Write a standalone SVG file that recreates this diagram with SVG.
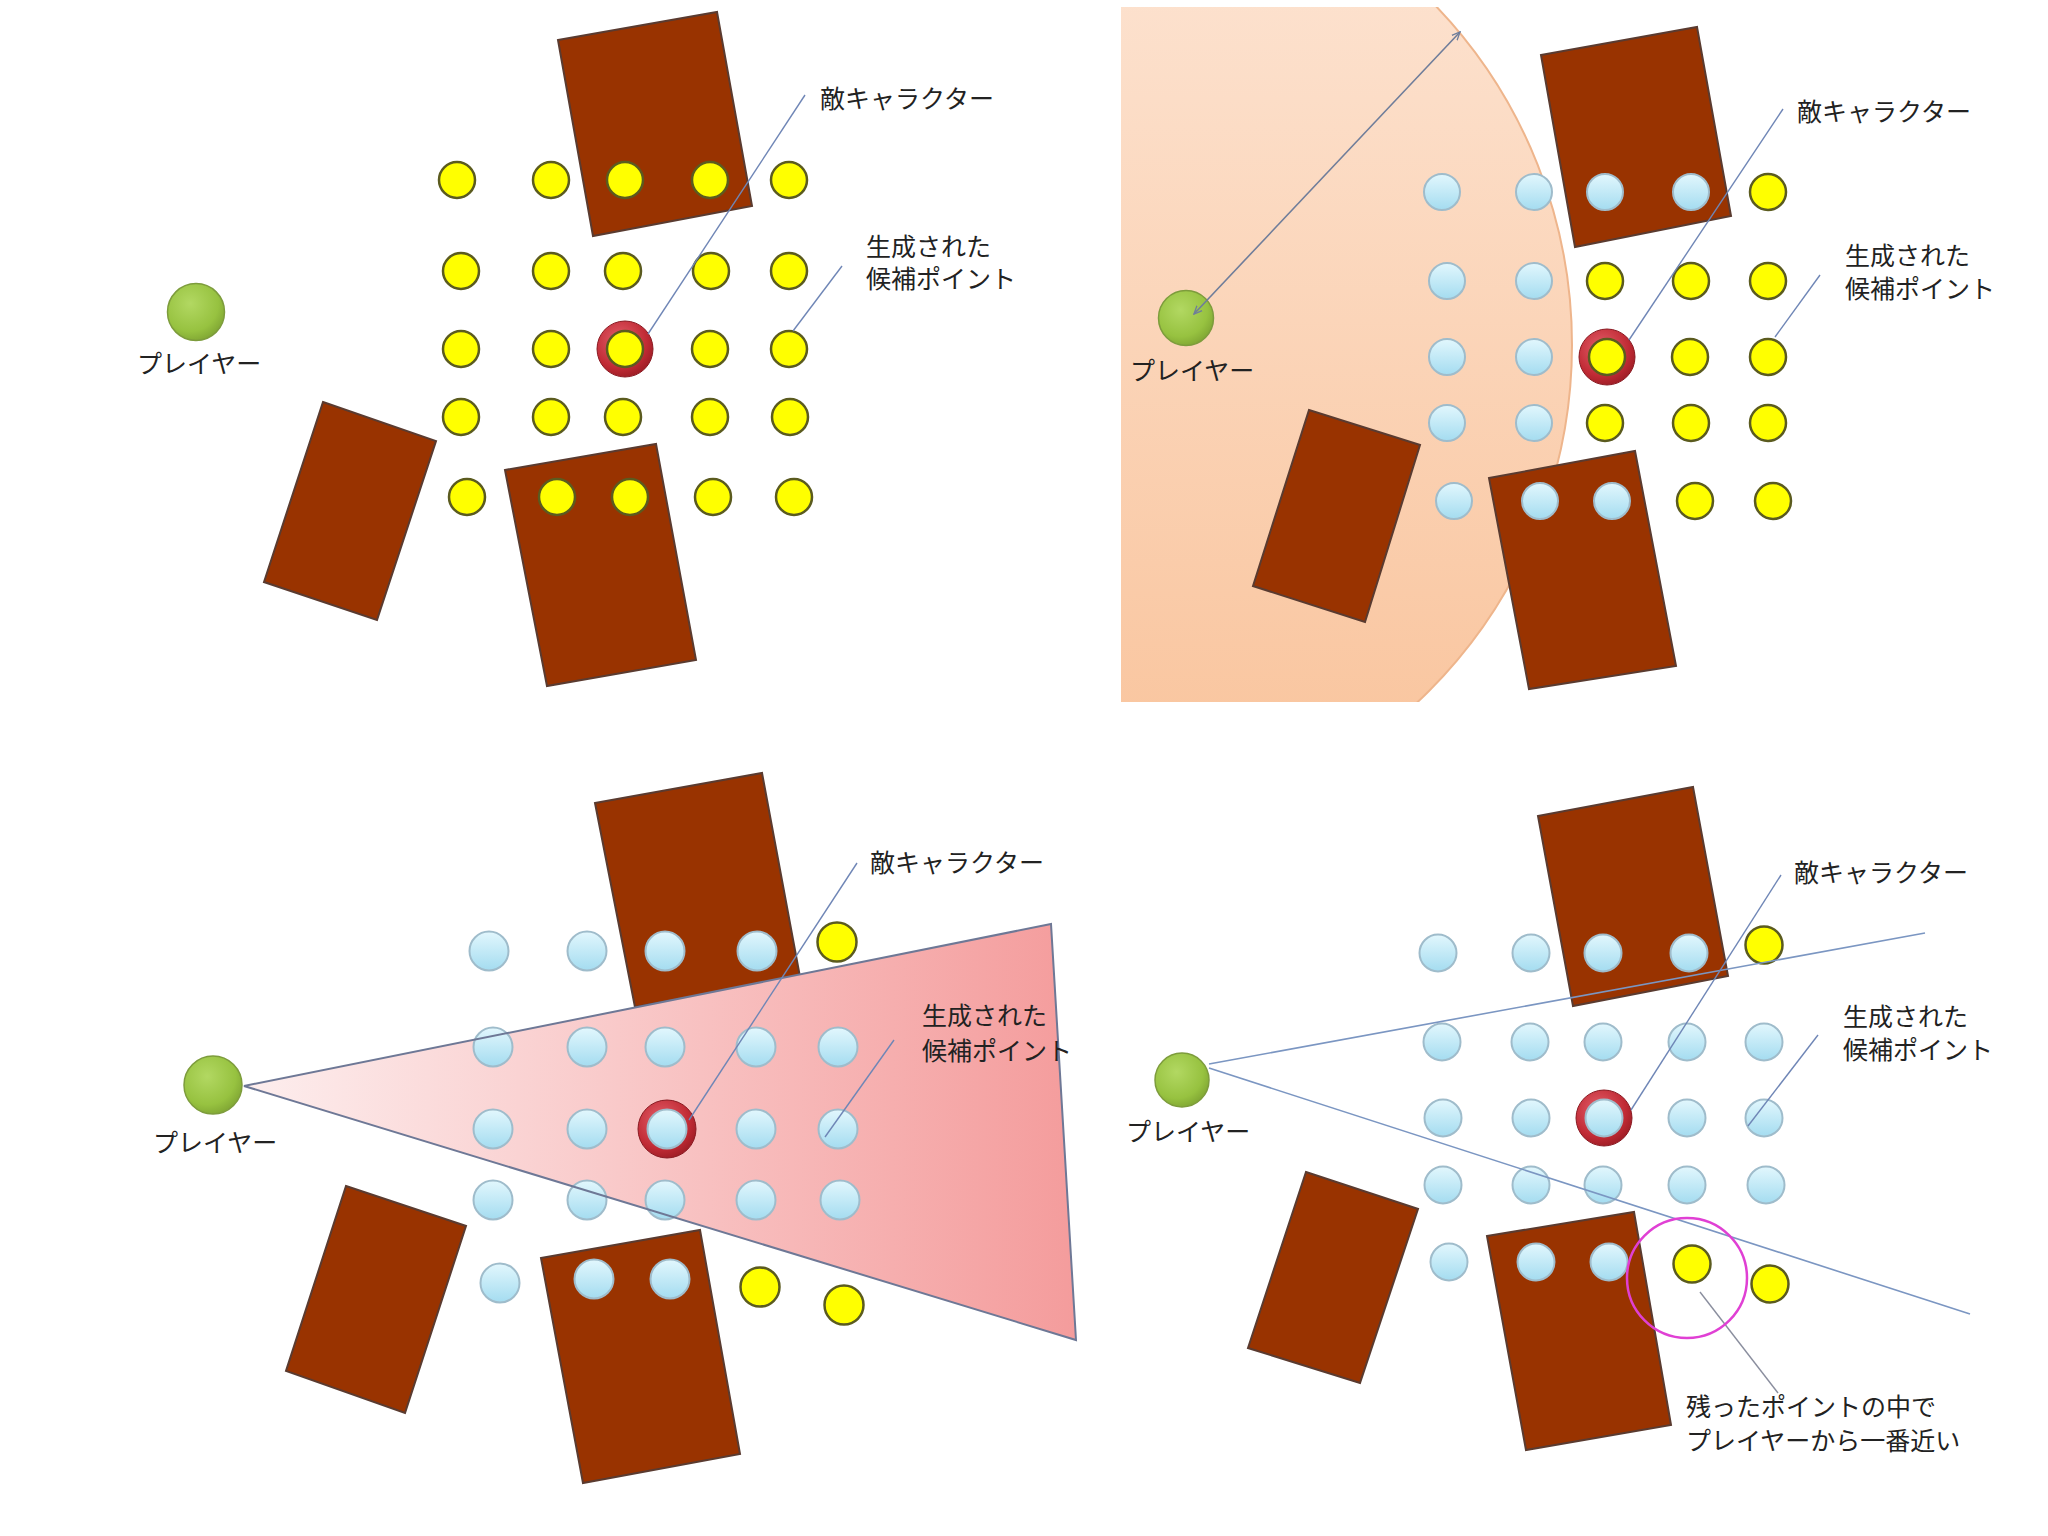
<svg xmlns="http://www.w3.org/2000/svg" width="2048" height="1536" viewBox="0 0 2048 1536">
<defs>
<style>
.rect{fill:#993300;stroke:#5a3b30;stroke-width:2}
.y{fill:#ffff00;stroke:#5b5b1f;stroke-width:2.5}
.b{fill:url(#blueG);stroke:#9fbccb;stroke-width:2}
.ring{fill:url(#ringG);stroke:#8a1a22;stroke-width:1}
.pl{fill:url(#greenG);stroke:#7d9c3c;stroke-width:1.5}
.lead{stroke:#6f86b6;stroke-width:1.4;fill:none}
.lbl{font-family:"Noto Sans CJK JP","Noto Sans CJK SC",sans-serif;font-size:25px;fill:#222}
</style>
<linearGradient id="blueG" x1="0" y1="0" x2="0" y2="1">
<stop offset="0" stop-color="#e2f7fd"/><stop offset="1" stop-color="#a4dcf0"/>
</linearGradient>
<radialGradient id="ringG" cx="0.4" cy="0.35" r="0.7">
<stop offset="0" stop-color="#e4606c"/><stop offset="0.7" stop-color="#c02a34"/><stop offset="1" stop-color="#9a1c24"/>
</radialGradient>
<radialGradient id="greenG" cx="0.4" cy="0.35" r="0.7">
<stop offset="0" stop-color="#b2d862"/><stop offset="0.7" stop-color="#97c240"/><stop offset="1" stop-color="#7ea432"/>
</radialGradient>
<linearGradient id="orangeG" x1="0" y1="0" x2="0" y2="1">
<stop offset="0" stop-color="#fde6d6"/><stop offset="1" stop-color="#f9c299"/>
</linearGradient>
<linearGradient id="pinkG" x1="0" y1="0" x2="1" y2="0">
<stop offset="0" stop-color="#fdeeee"/><stop offset="1" stop-color="#f49c9c"/>
</linearGradient>
<clipPath id="q2clip"><rect x="1121" y="7" width="700" height="695"/></clipPath>
<marker id="ah" viewBox="0 0 10 10" refX="9" refY="5" markerWidth="9" markerHeight="9" orient="auto-start-reverse" markerUnits="userSpaceOnUse">
<path d="M0,1 L9,5 L0,9" fill="none" stroke="#6f7d9a" stroke-width="1.5"/>
</marker>
</defs>
<rect width="2048" height="1536" fill="#ffffff"/>

<!-- ===== Quadrant 1 ===== -->
<g id="q1">
<g id="q1-enemy-top"><polygon class="rect" points="558,40 717,12 752,206 593,236"/></g>
<g id="q1-enemy-left"><polygon class="rect" points="323,402 436,441 377,620 264,582"/></g>
<g id="q1-enemy-bottom"><polygon class="rect" points="505,470 656,444 696,660 547,686"/></g>
<g id="q1-ring"><circle class="ring" cx="625" cy="349" r="28"/></g>
<g id="q1-points">
<circle class="y" cx="457" cy="180" r="18"/><circle class="y" cx="551" cy="180" r="18"/><circle class="y" cx="625" cy="180" r="18"/><circle class="y" cx="710" cy="180" r="18"/><circle class="y" cx="789" cy="180" r="18"/>
<circle class="y" cx="461" cy="271" r="18"/><circle class="y" cx="551" cy="271" r="18"/><circle class="y" cx="623" cy="271" r="18"/><circle class="y" cx="711" cy="271" r="18"/><circle class="y" cx="789" cy="271" r="18"/>
<circle class="y" cx="461" cy="349" r="18"/><circle class="y" cx="551" cy="349" r="18"/><circle class="y" cx="625" cy="349" r="18"/><circle class="y" cx="710" cy="349" r="18"/><circle class="y" cx="789" cy="349" r="18"/>
<circle class="y" cx="461" cy="417" r="18"/><circle class="y" cx="551" cy="417" r="18"/><circle class="y" cx="623" cy="417" r="18"/><circle class="y" cx="710" cy="417" r="18"/><circle class="y" cx="790" cy="417" r="18"/>
<circle class="y" cx="467" cy="497" r="18"/><circle class="y" cx="557" cy="497" r="18"/><circle class="y" cx="630" cy="497" r="18"/><circle class="y" cx="713" cy="497" r="18"/><circle class="y" cx="794" cy="497" r="18"/>
</g>
<g id="q1-player"><circle class="pl" cx="196" cy="312" r="28.5"/><text class="lbl" x="137" y="373">プレイヤー</text></g>
<g id="q1-connectors">
<line class="lead" x1="805" y1="95" x2="648" y2="334"/>
<line class="lead" x1="842" y1="266" x2="793" y2="331"/>
</g>
<g id="q1-label-enemy"><text class="lbl" x="820" y="108">敵キャラクター</text></g>
<g id="q1-label-points"><text class="lbl" x="866" y="256">生成された</text><text class="lbl" x="866" y="288">候補ポイント</text></g>
</g>

<!-- ===== Quadrant 2 ===== -->
<g id="q2">
<g id="q2-range" clip-path="url(#q2clip)"><circle cx="1082" cy="345" r="490" fill="url(#orangeG)" stroke="#eeb58c" stroke-width="2"/></g>
<g id="q2-enemy-top"><polygon class="rect" points="1541,55 1697,27 1731,216 1575,247"/></g>
<g id="q2-enemy-left"><polygon class="rect" points="1309,410 1420,445 1365,622 1253,586"/></g>
<g id="q2-enemy-bottom"><polygon class="rect" points="1489,478 1635,451 1676,666 1529,689"/></g>
<g id="q2-ring"><circle class="ring" cx="1607" cy="357" r="28"/></g>
<g id="q2-points">
<circle class="b" cx="1442" cy="192" r="18"/><circle class="b" cx="1534" cy="192" r="18"/><circle class="b" cx="1605" cy="192" r="18"/><circle class="b" cx="1691" cy="192" r="18"/><circle class="y" cx="1768" cy="192" r="18"/>
<circle class="b" cx="1447" cy="281" r="18"/><circle class="b" cx="1534" cy="281" r="18"/><circle class="y" cx="1605" cy="281" r="18"/><circle class="y" cx="1691" cy="281" r="18"/><circle class="y" cx="1768" cy="281" r="18"/>
<circle class="b" cx="1447" cy="357" r="18"/><circle class="b" cx="1534" cy="357" r="18"/><circle class="y" cx="1607" cy="357" r="18"/><circle class="y" cx="1690" cy="357" r="18"/><circle class="y" cx="1768" cy="357" r="18"/>
<circle class="b" cx="1447" cy="423" r="18"/><circle class="b" cx="1534" cy="423" r="18"/><circle class="y" cx="1605" cy="423" r="18"/><circle class="y" cx="1691" cy="423" r="18"/><circle class="y" cx="1768" cy="423" r="18"/>
<circle class="b" cx="1454" cy="501" r="18"/><circle class="b" cx="1540" cy="501" r="18"/><circle class="b" cx="1612" cy="501" r="18"/><circle class="y" cx="1695" cy="501" r="18"/><circle class="y" cx="1773" cy="501" r="18"/>
</g>
<g id="q2-player"><circle class="pl" cx="1186" cy="318" r="27.5"/><text class="lbl" x="1130" y="380">プレイヤー</text></g>
<g id="q2-connectors">
<line x1="1194" y1="314" x2="1460" y2="32" stroke="#6f7d9a" stroke-width="1.6" marker-start="url(#ah)" marker-end="url(#ah)"/>
<line class="lead" x1="1783" y1="109" x2="1629" y2="340"/>
<line class="lead" x1="1820" y1="275" x2="1775" y2="337"/>
</g>
<g id="q2-label-enemy"><text class="lbl" x="1797" y="121">敵キャラクター</text></g>
<g id="q2-label-points"><text class="lbl" x="1845" y="265">生成された</text><text class="lbl" x="1845" y="298">候補ポイント</text></g>
</g>

<!-- ===== Quadrant 3 ===== -->
<g id="q3">
<g id="q3-enemy-top"><polygon class="rect" points="595,803 762,773 800,977 635,1007"/></g>
<g id="q3-view"><polygon points="244,1086 1051,924 1076,1340" fill="url(#pinkG)"/></g>
<g id="q3-enemy-left"><polygon class="rect" points="346,1186 466,1226 405,1413 286,1371"/></g>
<g id="q3-enemy-bottom"><polygon class="rect" points="541,1258 700,1230 740,1454 583,1483"/></g>
<g id="q3-ring"><circle class="ring" cx="667" cy="1129" r="29"/></g>
<g id="q3-points">
<circle class="b" cx="489" cy="951" r="19.5"/><circle class="b" cx="587" cy="951" r="19.5"/><circle class="b" cx="665" cy="951" r="19.5"/><circle class="b" cx="757" cy="951" r="19.5"/><circle class="y" cx="837" cy="942" r="19.5"/>
<circle class="b" cx="493" cy="1047" r="19.5"/><circle class="b" cx="587" cy="1047" r="19.5"/><circle class="b" cx="665" cy="1047" r="19.5"/><circle class="b" cx="756" cy="1047" r="19.5"/><circle class="b" cx="838" cy="1047" r="19.5"/>
<circle class="b" cx="493" cy="1129" r="19.5"/><circle class="b" cx="587" cy="1129" r="19.5"/><circle class="b" cx="667" cy="1129" r="19.5"/><circle class="b" cx="756" cy="1129" r="19.5"/><circle class="b" cx="838" cy="1129" r="19.5"/>
<circle class="b" cx="493" cy="1200" r="19.5"/><circle class="b" cx="587" cy="1200" r="19.5"/><circle class="b" cx="665" cy="1200" r="19.5"/><circle class="b" cx="756" cy="1200" r="19.5"/><circle class="b" cx="840" cy="1200" r="19.5"/>
<circle class="b" cx="500" cy="1283" r="19.5"/><circle class="b" cx="594" cy="1279" r="19.5"/><circle class="b" cx="670" cy="1279" r="19.5"/><circle class="y" cx="760" cy="1287" r="19.5"/><circle class="y" cx="844" cy="1305" r="19.5"/>
</g>
<g id="q3-player"><circle class="pl" cx="213" cy="1085" r="29"/><text class="lbl" x="153" y="1152">プレイヤー</text></g>
<g id="q3-connectors">
<polygon points="244,1086 1051,924 1076,1340" fill="none" stroke="#6e7896" stroke-width="2"/>
<line class="lead" x1="857" y1="863" x2="689" y2="1120"/>
<line class="lead" x1="894" y1="1040" x2="825" y2="1137"/>
</g>
<g id="q3-label-enemy"><text class="lbl" x="870" y="872">敵キャラクター</text></g>
<g id="q3-label-points"><text class="lbl" x="922" y="1025">生成された</text><text class="lbl" x="922" y="1060">候補ポイント</text></g>
</g>

<!-- ===== Quadrant 4 ===== -->
<g id="q4">
<g id="q4-enemy-top"><polygon class="rect" points="1538,816 1693,787 1728,976 1573,1006"/></g>
<g id="q4-enemy-left"><polygon class="rect" points="1306,1172 1418,1209 1360,1383 1248,1348"/></g>
<g id="q4-enemy-bottom"><polygon class="rect" points="1487,1236 1634,1212 1671,1425 1526,1450"/></g>
<g id="q4-ring"><circle class="ring" cx="1604" cy="1118" r="28"/></g>
<g id="q4-points">
<circle class="b" cx="1438" cy="953" r="18.5"/><circle class="b" cx="1531" cy="953" r="18.5"/><circle class="b" cx="1603" cy="953" r="18.5"/><circle class="b" cx="1689" cy="953" r="18.5"/><circle class="y" cx="1764" cy="945" r="18.5"/>
<circle class="b" cx="1442" cy="1042" r="18.5"/><circle class="b" cx="1530" cy="1042" r="18.5"/><circle class="b" cx="1603" cy="1042" r="18.5"/><circle class="b" cx="1687" cy="1042" r="18.5"/><circle class="b" cx="1764" cy="1042" r="18.5"/>
<circle class="b" cx="1443" cy="1118" r="18.5"/><circle class="b" cx="1531" cy="1118" r="18.5"/><circle class="b" cx="1604" cy="1118" r="18.5"/><circle class="b" cx="1687" cy="1118" r="18.5"/><circle class="b" cx="1764" cy="1118" r="18.5"/>
<circle class="b" cx="1443" cy="1185" r="18.5"/><circle class="b" cx="1531" cy="1185" r="18.5"/><circle class="b" cx="1603" cy="1185" r="18.5"/><circle class="b" cx="1687" cy="1185" r="18.5"/><circle class="b" cx="1766" cy="1185" r="18.5"/>
<circle class="b" cx="1449" cy="1262" r="18.5"/><circle class="b" cx="1536" cy="1262" r="18.5"/><circle class="b" cx="1609" cy="1262" r="18.5"/><circle class="y" cx="1692" cy="1264" r="18.5"/><circle class="y" cx="1770" cy="1284" r="18.5"/>
</g>
<g id="q4-player"><circle class="pl" cx="1182" cy="1080" r="27"/><text class="lbl" x="1126" y="1141">プレイヤー</text></g>
<g id="q4-connectors">
<line x1="1209" y1="1064" x2="1925" y2="933" stroke="#7b96c2" stroke-width="1.6"/>
<line x1="1209" y1="1068" x2="1970" y2="1314" stroke="#7b96c2" stroke-width="1.6"/>
<line class="lead" x1="1781" y1="875" x2="1631" y2="1110"/>
<line class="lead" x1="1818" y1="1035" x2="1748" y2="1126"/>
<line x1="1700" y1="1292" x2="1778" y2="1393" stroke="#8a8e9e" stroke-width="1.4"/>
</g>
<g id="q4-closest"><circle cx="1687" cy="1278" r="60" fill="none" stroke="#e040d4" stroke-width="2.5"/></g>
<g id="q4-label-enemy"><text class="lbl" x="1794" y="882">敵キャラクター</text></g>
<g id="q4-label-points"><text class="lbl" x="1843" y="1026">生成された</text><text class="lbl" x="1843" y="1059">候補ポイント</text></g>
<g id="q4-label-closest"><text class="lbl" x="1686" y="1416">残ったポイントの中で</text><text class="lbl" x="1686" y="1450">プレイヤーから一番近い</text></g>
</g>
</svg>
